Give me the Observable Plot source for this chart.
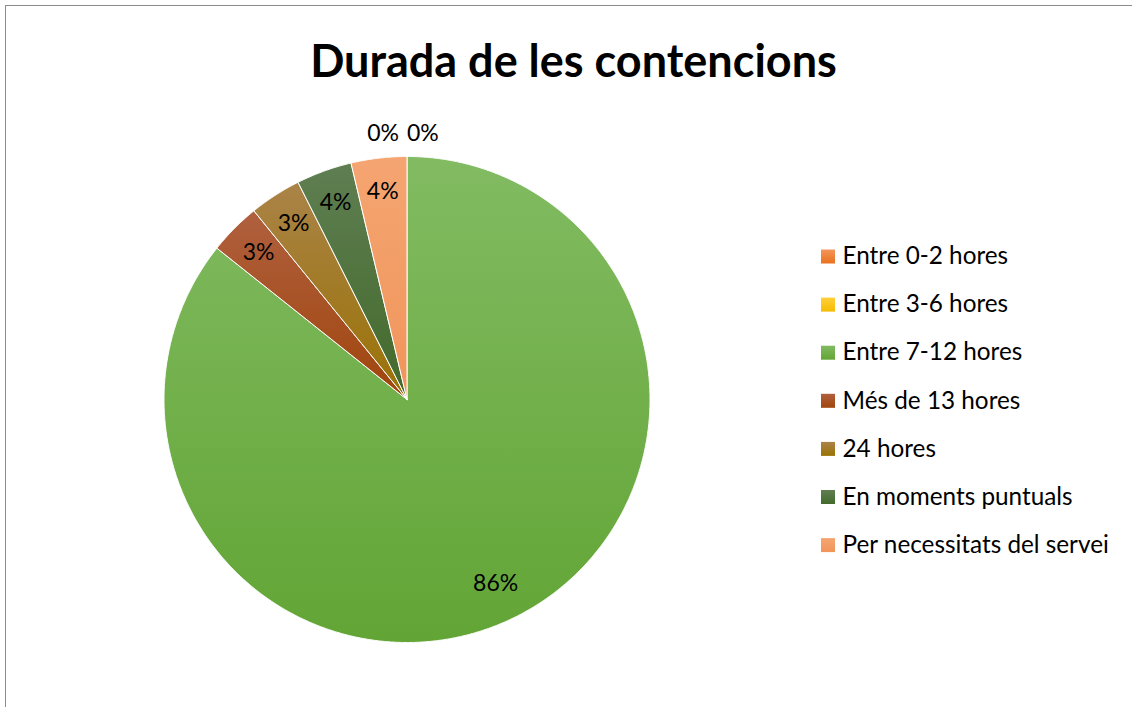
<!DOCTYPE html>
<html>
<head>
<meta charset="utf-8">
<script src="https://cdn.jsdelivr.net/npm/d3@7"></script>
<script src="https://cdn.jsdelivr.net/npm/@observablehq/plot@0.6"></script>
<style>
  html, body { margin: 0; padding: 0; background: #fff; }
  #wrap { position: relative; width: 1132px; height: 707px; overflow: hidden; }
  #wrap svg { display: block; position: absolute; left: 0; top: 0; }
  #border { position: absolute; left: 5px; top: 5px; width: 1127px; height: 702px;
            border-top: 1px solid #8c8c8c; border-left: 1px solid #8c8c8c; pointer-events: none; }
</style>
</head>
<body>
<div id="wrap"><div id="border"></div></div>
<script>
// ---- data ----
const title = "Durada de les contencions";
const categories = ["Entre 0-2 hores", "Entre 3-6 hores", "Entre 7-12 hores", "Més de 13 hores", "24 hores", "En moments puntuals", "Per necessitats del servei"];
const values = [0, 0, 85.7, 3.45, 3.45, 3.7, 3.7];

// ---- styles ----
const topColors = ["#F3955A", "#FFCF3A", "#82BB62", "#B0603F", "#AA8348", "#5F7E52", "#F5A572"];
const bottomColors = ["#E9711F", "#F5BC00", "#62A535", "#A0450C", "#9A7204", "#436A2B", "#F0955A"];

const W = 1132, H = 707;
const cx = 406.5, cy = 399, R = 243;
const legendX = 827.5, legendY0 = 256, legendStep = 48.1;

const total = d3.sum(values);
const arcs = d3.pie().sort(null).value(d => d)(values);

function slicePolygon(a) {
  const pts = [{x: cx, y: cy}];
  const n = Math.max(2, Math.ceil((a.endAngle - a.startAngle) / 0.005));
  for (let k = 0; k <= n; k++) {
    const t = a.startAngle + (a.endAngle - a.startAngle) * k / n;
    pts.push({x: cx + R * Math.sin(t), y: cy - R * Math.cos(t)});
  }
  pts.push({x: cx, y: cy});
  return pts;
}

const sliceMarks = arcs
  .map((a, i) => ({a, i}))
  .filter(({a}) => a.value > 0)
  .map(({a, i}) => Plot.line(slicePolygon(a), {
    x: "x", y: "y", fill: `url(#grad${i})`, stroke: "#ffffff", strokeWidth: 1, strokeLinejoin: "round"
  }));

const labelData = arcs.map((a, i) => {
  const mid = (a.startAngle + a.endAngle) / 2;
  const share = a.value / total;
  const r = a.value === 0 ? 1.095 * R : (share > 0.5 ? 0.84 * R : 0.86 * R);
  return {
    x: cx + r * Math.sin(mid),
    y: cy - r * Math.cos(mid),
    text: Math.round(share * 100) + "%",
    zero: a.value === 0,
    i
  };
});

const zeroLabels = labelData.filter(d => d.zero);
const nonzeroLabels = labelData.filter(d => !d.zero);

const legendData = categories.map((c, i) => ({c, i, y: legendY0 + i * legendStep}));

const font = "Lato, 'Open Sans', sans-serif";

const svg = Plot.plot({
  width: W, height: H,
  margin: 0,
  x: {domain: [0, W], range: [0, W], axis: null},
  y: {domain: [0, H], range: [0, H], axis: null},
  style: {background: "transparent", fontFamily: font},
  marks: [
    ...sliceMarks,
    Plot.text(nonzeroLabels, {x: "x", y: "y", text: "text", fontSize: 23, fill: "#000", lineAnchor: "middle"}),
    Plot.text(zeroLabels.slice(0, 1), {x: "x", y: "y", text: "text", fontSize: 23, fill: "#000", textAnchor: "end", dx: -8, lineAnchor: "middle"}),
    Plot.text(zeroLabels.slice(1), {x: "x", y: "y", text: "text", fontSize: 23, fill: "#000", textAnchor: "start", dx: 0, lineAnchor: "middle"}),
    ...legendData.map(d => Plot.dot([d], {x: legendX, y: "y", symbol: "square", r: 7.9, fill: `url(#grad${d.i})`, stroke: "none"})),
    Plot.text(legendData, {x: legendX + 14.5, y: "y", text: "c", textAnchor: "start", lineAnchor: "middle", fontSize: 24.3, fill: "#000"}),
    Plot.text([title], {x: 573, y: 76, text: d => d, fontSize: 45, fontWeight: "bold", fill: "#000", lineAnchor: "bottom"})
  ]
});

// gradient paint servers
const defs = d3.select(svg).insert("defs", ":first-child");
categories.forEach((c, i) => {
  const g = defs.append("linearGradient").attr("id", `grad${i}`)
    .attr("x1", 0).attr("y1", 0).attr("x2", 0).attr("y2", 1);
  g.append("stop").attr("offset", "0%").attr("stop-color", topColors[i]);
  g.append("stop").attr("offset", "100%").attr("stop-color", bottomColors[i]);
});

document.getElementById("wrap").prepend(svg);
</script>
</body>
</html>
